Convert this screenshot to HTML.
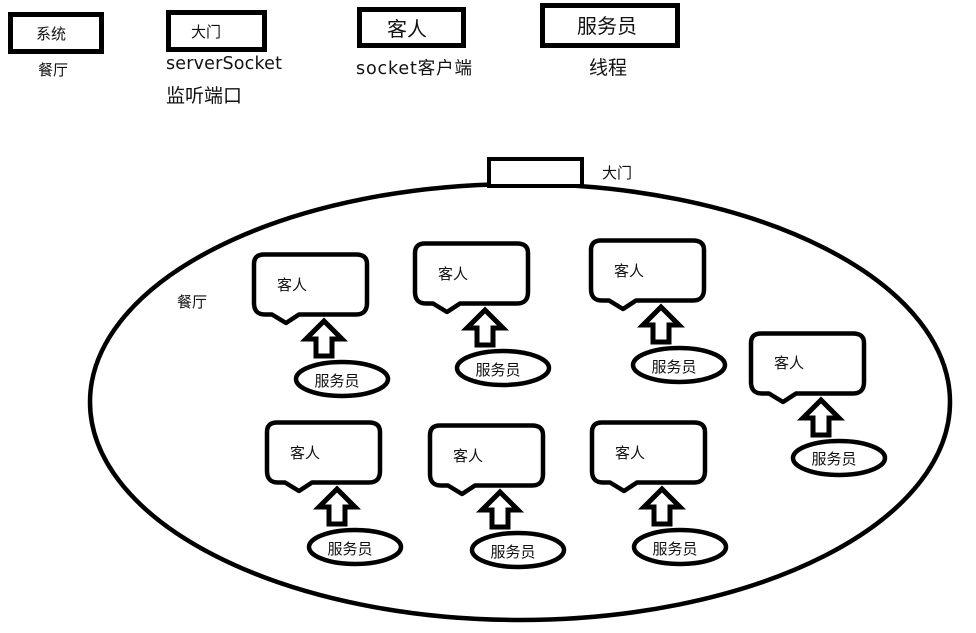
<!DOCTYPE html>
<html>
<head>
<meta charset="utf-8">
<style>
html,body{margin:0;padding:0;background:#fff;}
svg{display:block;}
text{font-family:"Liberation Sans","Noto Sans CJK SC",sans-serif;fill:#111;}
.s{font-size:15px;text-anchor:middle;}
.d{font-family:"DejaVu Sans","Noto Sans CJK SC",sans-serif;font-size:17.500px;}
</style>
</head>
<body>
<svg width="976" height="633" viewBox="0 0 976 633" xmlns="http://www.w3.org/2000/svg">
<defs>
<g id="u">
<path d="M11 1.500H103Q114 1.500 114 11V50Q114 61.500 103 61.500H46L33 70L19 61.500H12Q1 61.500 1 50V11Q1 1.500 11 1.500Z" fill="#fff" stroke="#000" stroke-width="4.500" stroke-linejoin="round"/>
<path d="M71 68L89 86H79V103H63V86H53Z" fill="#fff" stroke="#000" stroke-width="5"/>
<ellipse cx="89" cy="126" rx="46" ry="17" fill="#fff" stroke="#000" stroke-width="4.500"/>
</g>
</defs>
<rect x="10.5" y="14.5" width="91" height="37" fill="#fff" stroke="#000" stroke-width="5"/>
<rect x="168.500" y="12.500" width="96" height="37" fill="#fff" stroke="#000" stroke-width="5"/>
<rect x="359.500" y="9.500" width="104" height="36" fill="#fff" stroke="#000" stroke-width="5"/>
<rect x="542.500" y="5.500" width="135" height="40" fill="#fff" stroke="#000" stroke-width="5"/>
<text x="51" y="39" class="s">系统</text>
<text x="206" y="37" class="s">大门</text>
<text x="53" y="75" class="s">餐厅</text>
<text x="407" y="36" text-anchor="middle" font-size="20">客人</text>
<text x="607" y="33" text-anchor="middle" font-size="20">服务员</text>
<text x="166" y="69" class="d" textLength="116">serverSocket</text>
<text x="166" y="102" font-size="19">监听端口</text>
<text x="356" y="74" class="d" textLength="116">socket客户端</text>
<text x="608" y="74" text-anchor="middle" font-size="19">线程</text>

<ellipse cx="520" cy="402" rx="430" ry="218" fill="#fff" stroke="#000" stroke-width="4.500"/>
<rect x="489" y="159" width="93" height="27" fill="#fff" stroke="#000" stroke-width="4"/>
<text x="617" y="178" class="s">大门</text>
<text x="192" y="307" class="s">餐厅</text>

<use href="#u" x="253" y="253"/>
<use href="#u" x="414" y="242"/>
<use href="#u" x="590" y="239"/>
<use href="#u" x="750" y="332"/>
<use href="#u" x="266" y="421"/>
<use href="#u" x="429" y="424"/>
<use href="#u" x="591" y="421"/>

<text x="292" y="290" class="s">客人</text>
<text x="453" y="279" class="s">客人</text>
<text x="629" y="276" class="s">客人</text>
<text x="789" y="368" class="s">客人</text>
<text x="305" y="458" class="s">客人</text>
<text x="468" y="461" class="s">客人</text>
<text x="630" y="458" class="s">客人</text>

<text x="337" y="386" class="s">服务员</text>
<text x="498" y="375" class="s">服务员</text>
<text x="674" y="372" class="s">服务员</text>
<text x="834" y="464" class="s">服务员</text>
<text x="350" y="554" class="s">服务员</text>
<text x="513" y="557" class="s">服务员</text>
<text x="675" y="554" class="s">服务员</text>
</svg>
</body>
</html>
